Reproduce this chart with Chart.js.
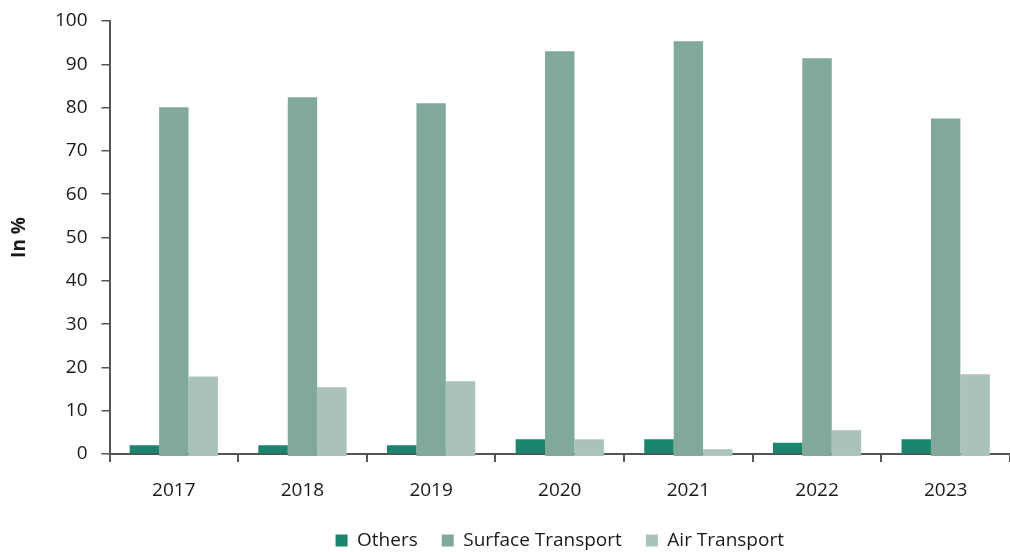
<!DOCTYPE html>
<html>
<head>
<meta charset="utf-8">
<script src="https://cdn.jsdelivr.net/npm/chart.js@4/dist/chart.umd.min.js"></script>
<style>
  html, body { margin: 0; padding: 0; background: #ffffff; }
  #wrap { width: 1010px; height: 552px; position: relative; }
</style>
</head>
<body>
<div id="wrap"><canvas id="c" width="1010" height="552"></canvas></div>
<script>
// Transport mode shares by year, in %
const years = ['2017', '2018', '2019', '2020', '2021', '2022', '2023'];
const others = [2.0, 2.0, 2.0, 3.4, 3.4, 2.6, 3.4];
const surfaceTransport = [80.1, 82.4, 81.0, 93.0, 95.3, 91.4, 77.5];
const airTransport = [17.9, 15.4, 16.8, 3.4, 1.1, 5.5, 18.4];
const yTicks = [0, 10, 20, 30, 40, 50, 60, 70, 80, 90, 100];

const FONT = '"Open Sans", Lato, sans-serif';
const TEXT = '#1a1a1a';
const AXIS = '#555555';

// Centre the legend row under the plot area instead of the whole canvas
const legendUnderPlot = {
  id: 'legendUnderPlot',
  afterLayout(chart) {
    const lg = chart.legend;
    if (!lg) return;
    lg.left = chart.chartArea.left;
    lg.right = chart.chartArea.right;
  }
};

new Chart(document.getElementById('c'), {
  type: 'bar',
  data: {
    labels: years,
    datasets: [
      { label: 'Others', data: others, backgroundColor: '#1b856d' },
      { label: 'Surface Transport', data: surfaceTransport, backgroundColor: '#80a99a', base: -0.45, clip: false },
      { label: 'Air Transport', data: airTransport, backgroundColor: '#aac3b9', base: -0.45, clip: false }
    ]
  },
  plugins: [legendUnderPlot],
  options: {
    responsive: false,
    animation: false,
    devicePixelRatio: 1,
    layout: { padding: { top: 21, right: 0, bottom: -8, left: 0 } },
    datasets: { bar: { barPercentage: 1, categoryPercentage: 0.686, borderWidth: 0 } },
    plugins: {
      tooltip: { enabled: false },
      legend: {
        position: 'bottom',
        labels: {
          font: { family: FONT, size: 19 },
          color: TEXT,
          boxWidth: 12,
          boxHeight: 12,
          padding: 24
        }
      }
    },
    scales: {
      x: {
        z: 1,
        offset: true,
        border: { display: true, color: AXIS, width: 2 },
        grid: { offset: true, drawOnChartArea: false, drawTicks: true, tickLength: 8, color: AXIS, lineWidth: 2 },
        ticks: { font: { family: FONT, size: 19 }, color: TEXT, padding: 17 },
        afterFit: (scale) => { scale.height = 53; }
      },
      y: {
        z: 1,
        min: 0,
        max: 100,
        afterBuildTicks: (scale) => { scale.ticks = yTicks.map(v => ({ value: v })); },
        border: { display: true, color: AXIS, width: 2 },
        grid: { drawOnChartArea: false, drawTicks: true, tickLength: 8, color: AXIS, lineWidth: 1.5 },
        ticks: { font: { family: FONT, size: 19 }, color: TEXT, padding: 14 },
        title: {
          display: true,
          text: 'In %',
          font: { family: FONT, size: 19, weight: 'bold' },
          color: TEXT,
          padding: { top: 8, bottom: 0 }
        },
        afterFit: (scale) => {
          scale.width = 109.5;
          scale.paddingTop = 0;
          scale.paddingBottom = 0;
        }
      }
    }
  }
});
</script>
</body>
</html>
